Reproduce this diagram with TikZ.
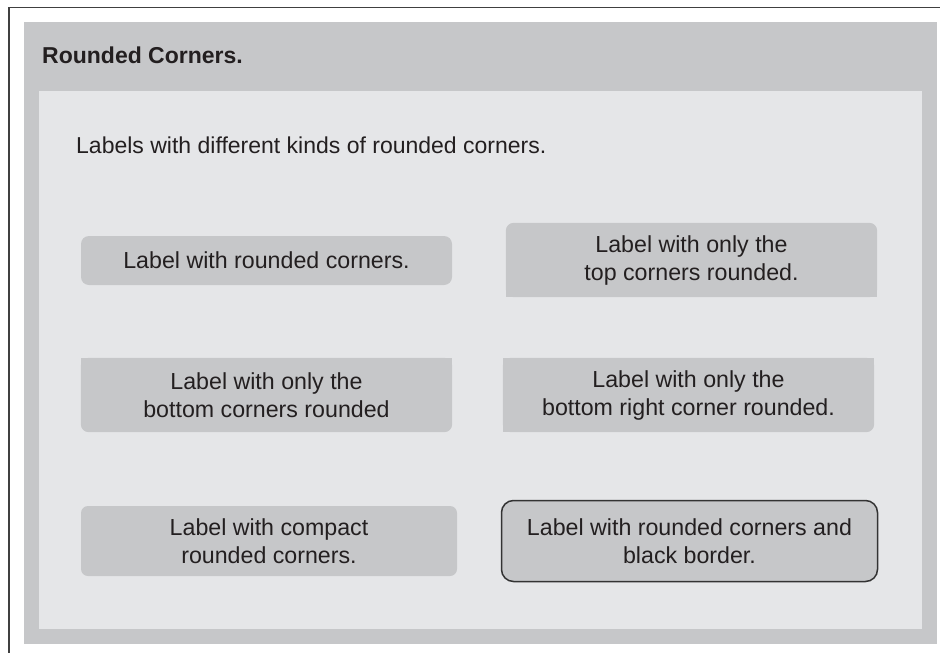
\documentclass[tikz,border=0pt]{standalone}
\usepackage{fontspec}
\setmainfont{Liberation Sans}
\definecolor{panelgray}{HTML}{C6C7C9}
\definecolor{panellight}{HTML}{E5E6E8}
\definecolor{labelgray}{HTML}{C6C7C9}
\definecolor{inkgray}{HTML}{231F20}
\pgfdeclarelayer{back}
\pgfdeclarelayer{mid}
\pgfsetlayers{back,mid,main}
\tikzset{
  labelbox/.style={minimum width=371pt,inner sep=0pt,align=center,text=inkgray,
    font=\fontsize{23.2}{28}\selectfont},
  labelfill/.style={fill=labelgray}
}
\begin{document}
\begin{tikzpicture}[x=1pt,y=-1pt]
\useasboundingbox (0,0) rectangle (940,653);
\begin{pgfonlayer}{back}
  \draw[line width=1.6pt,black!75] (9,653) -- (9,7.5) -- (940,7.5);
  \fill[panelgray] (24,22) rectangle (937,644);
  \fill[panellight] (39,91) rectangle (922,629);
\end{pgfonlayer}
  \node[anchor=base west,inner sep=0pt,text=inkgray,font=\fontsize{23}{28}\selectfont\bfseries] (title) at (42,63) {Rounded Corners.};
  \node[anchor=base west,inner sep=0pt,text=inkgray,font=\fontsize{23}{28}\selectfont] (intro) at (76,153) {Labels with different kinds of rounded corners.};
  \node[labelbox,labelfill,rounded corners=8pt,minimum height=49pt] (l1) at (266.5,260.5) {Label with rounded corners.};
  \node[labelbox,minimum height=74pt] (l2) at (691.5,260) {Label with only the\\top corners rounded.};
  \node[labelbox,minimum height=74pt] (l3) at (266.5,395) {Label with only the\\bottom corners rounded};
  \node[labelbox,minimum height=74pt] (l4) at (688.5,395) {Label with only the\\bottom right corner rounded.};
  \node[labelbox,labelfill,rounded corners=7pt,minimum width=376pt,minimum height=70pt] (l5) at (269,541) {Label with compact\\rounded corners.};
  \node[labelbox,labelfill,draw=black!80,line width=1.5pt,rounded corners=12pt,minimum width=376pt,minimum height=81pt] (l6) at (689.5,541) {Label with rounded corners and\\black border.};
\begin{pgfonlayer}{mid}
  % top corners only
  \fill[labelfill,rounded corners=8pt] (l2.north west) rectangle (l2.south east);
  \fill[labelfill] (l2.west) rectangle (l2.south east);
  % bottom corners only
  \fill[labelfill,rounded corners=8pt] (l3.north west) rectangle (l3.south east);
  \fill[labelfill] (l3.north west) rectangle (l3.east);
  % bottom right corner only
  \fill[labelfill,rounded corners=8pt] (l4.north west) rectangle (l4.south east);
  \fill[labelfill] (l4.north west) rectangle (l4.east);
  \fill[labelfill] (l4.north west) rectangle (l4.south);
\end{pgfonlayer}
\end{tikzpicture}
\end{document}
